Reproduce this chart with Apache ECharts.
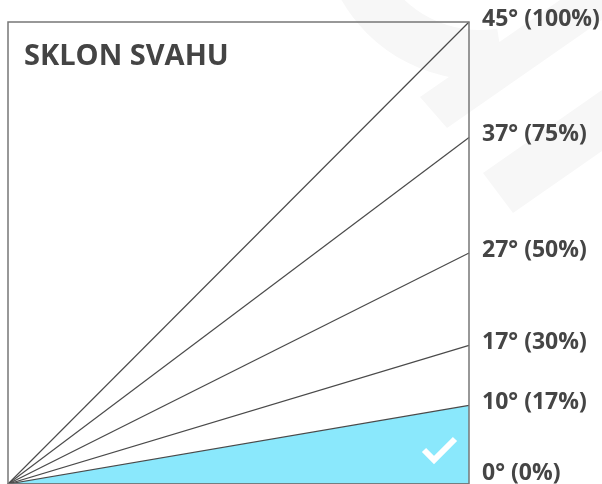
<!DOCTYPE html>
<html>
<head>
<meta charset="utf-8">
<script src="https://cdn.jsdelivr.net/npm/echarts@6/dist/echarts.min.js"></script>
<style>
  html, body { margin: 0; padding: 0; background: #fff; }
  #main { width: 602px; height: 484px; }
</style>
</head>
<body>
<div id="main"></div>
<script>
// sklon v procentech a stupnich
const slopePercent = [100, 75, 50, 30, 17, 0]
const slopeDegrees = [45, 37, 27, 17, 10, 0]
const okLimit = 17 // vse pod touto hranici je v poradku

const myChart = echarts.init(document.getElementById('main'), null, { renderer: 'canvas' })

const series = slopePercent.map((p, i) => ({
  type: 'line',
  data: [[0, 0], [100, p]],
  symbol: 'none',
  silent: true,
  lineStyle: { color: '#4a4a4a', width: 1.2 },
  areaStyle: p === okLimit ? { color: '#8ae8fc', opacity: 1 } : null,
  z: p === okLimit ? 1 : 3,
  markPoint: {
    symbol: 'circle',
    symbolSize: 0,
    silent: true,
    data: [{ coord: [100, p] }],
    label: {
      show: true,
      position: 'right',
      formatter: slopeDegrees[i] + '° (' + p + '%)',
      offset: [8, p === 0 ? -11 : -3],
      fontFamily: 'Open Sans',
      fontWeight: 'bold',
      fontSize: 23,
      color: '#454545',
    },
  },
}))

const option = {
  animation: false,
  grid: {
    left: 8,
    top: 22,
    width: 461,
    height: 462,
    show: true,
    borderColor: '#777',
    borderWidth: 1.5,
    z: 4,
  },
  xAxis: { type: 'value', min: 0, max: 100, show: false },
  yAxis: { type: 'value', min: 0, max: 100, show: false },
  graphic: [
    // vodoznak v pozadi
    {
      type: 'sector', z: -10, silent: true,
      shape: { cx: 480, cy: -80, r0: 110, r: 160, startAngle: Math.PI * 0.45, endAngle: Math.PI * 0.85, clockwise: true },
      style: { fill: '#f7f7f7' },
    },
    {
      type: 'polygon', z: -10, silent: true,
      shape: { points: [[420, 97], [560, 0], [602, 0], [602, 20], [447, 128]] },
      style: { fill: '#f7f7f7' },
    },
    {
      type: 'polygon', z: -10, silent: true,
      shape: { points: [[483, 173], [602, 90], [602, 151], [513, 213]] },
      style: { fill: '#f7f7f7' },
    },
    {
      type: 'text', left: 24, top: 42, z: 10,
      style: { text: 'SKLON SVAHU', fontFamily: 'Open Sans', fontWeight: 'bold', fontSize: 29, fill: '#444' },
    },
    {
      type: 'polyline', z: 10, silent: true,
      shape: { points: [[424, 450], [434, 460], [455, 439]] },
      style: { stroke: '#fff', lineWidth: 6, fill: null },
    },
  ],
  series: series,
}

myChart.setOption(option)
</script>
</body>
</html>
